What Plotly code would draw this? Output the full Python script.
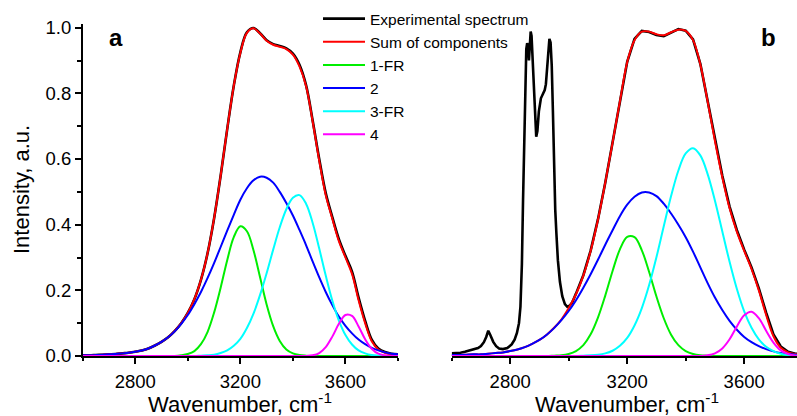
import plotly.graph_objects as go

# ---------------- data ----------------
WN = [2600, 2625, 2650, 2675, 2700, 2725, 2750, 2775, 2800, 2825, 2850, 2875, 2900, 2925, 2950, 2975,
      3000, 3025, 3050, 3075, 3100, 3125, 3150, 3175, 3200, 3225, 3250, 3275, 3300, 3325, 3350, 3375,
      3400, 3425, 3450, 3475, 3500, 3525, 3550, 3575, 3600, 3625, 3650, 3675, 3700, 3725, 3750, 3775, 3800]

# panel a
A_EXP = [.002, .002, .003, .004, .005, .006, .008, .010, .013, .017, .023, .032, .043, .057, .076, .100,
         .131, .173, .232, .312, .419, .549, .691, .823, .925, .986, .999, .983, .962, .950, .944, .937,
         .921, .887, .825, .718, .601, .496, .423, .356, .305, .257, .178, .107, .050, .023, .012, .007, .005]
A_SUM = [.002, .002, .003, .004, .005, .006, .008, .010, .013, .017, .023, .032, .043, .057, .076, .100,
         .131, .173, .232, .312, .419, .549, .691, .823, .923, .984, .998, .982, .960, .948, .942, .935,
         .918, .882, .822, .715, .596, .490, .418, .350, .300, .250, .170, .100, .045, .020, .010, .006, .004]
A_G1 = [0, 0, 0, 0, 0, 0, 0, 0, 0, 0, 0, 0, 0, 0, 0, .002,
        .006, .015, .036, .073, .132, .208, .292, .362, .395, .380, .322, .240, .157, .091, .046, .020,
        .008, .003, .001, 0, 0, 0, 0, 0, 0, 0, 0, 0, 0, 0, 0, 0, 0]
A_B2 = [.002, .002, .003, .004, .005, .006, .008, .010, .013, .017, .023, .032, .043, .057, .075, .098,
        .125, .158, .195, .237, .283, .332, .382, .430, .476, .511, .535, .546, .543, .528, .500, .466,
        .428, .384, .338, .288, .240, .195, .155, .120, .092, .069, .050, .036, .025, .017, .011, .007, .005]
A_B3 = [0, 0, 0, 0, 0, 0, 0, 0, 0, 0, 0, 0, 0, 0, 0, 0,
        0, 0, .001, .002, .004, .009, .017, .031, .052, .085, .129, .186, .252, .324, .392, .447,
        .482, .490, .464, .406, .328, .245, .169, .108, .064, .035, .017, .008, .003, .001, 0, 0, 0]
A_B4 = [0, 0, 0, 0, 0, 0, 0, 0, 0, 0, 0, 0, 0, 0, 0, 0,
        0, 0, 0, 0, 0, 0, 0, 0, 0, 0, 0, 0, 0, 0, 0, 0,
        0, 0, 0, .002, .009, .027, .059, .098, .125, .122, .090, .051, .022, .007, .002, 0, 0]

# panel b
B_EXP_X = [2600, 2615, 2630, 2645, 2660, 2675, 2690, 2700, 2710, 2718, 2725, 2732, 2742, 2752, 2762,
           2775, 2790, 2805, 2815, 2823, 2830, 2835, 2840, 2844, 2848, 2852, 2855, 2858, 2861, 2864,
           2867, 2870, 2873, 2877, 2881, 2885, 2889, 2893, 2898, 2905, 2912, 2918, 2922, 2926, 2930,
           2934, 2938, 2942, 2946, 2950, 2954, 2958, 2963, 2970, 2978, 2987, 2995, 3003, 3012, 3025,
           3050, 3075, 3100, 3125, 3150, 3175, 3200, 3225, 3250, 3275, 3300, 3325, 3350, 3375, 3400,
           3425, 3450, 3475, 3500, 3525, 3550, 3575, 3600, 3625, 3650, 3675, 3700, 3725, 3750, 3775, 3800]
B_EXP = [.008, .008, .010, .013, .017, .020, .024, .030, .042, .058, .077, .064, .043, .030, .023,
         .021, .024, .035, .050, .070, .100, .150, .280, .480, .680, .850, .935, .953, .945, .900,
         .955, .988, .975, .890, .790, .700, .668, .685, .745, .785, .800, .810, .828, .875, .935,
         .966, .955, .885, .745, .565, .445, .372, .292, .226, .182, .158, .150, .153, .163, .190,
         .246, .321, .416, .528, .650, .776, .896, .966, .990, .987, .978, .974, .985, .996, .991,
         .964, .890, .778, .660, .550, .455, .383, .324, .270, .206, .132, .066, .029, .013, .007, .005]
B_SUM = [.003, .003, .004, .005, .005, .007, .009, .011, .015, .020, .027, .037, .049, .065, .086, .111,
         .146, .188, .245, .320, .415, .528, .650, .775, .895, .962, .988, .988, .980, .977, .986, .994,
         .990, .962, .888, .775, .655, .545, .450, .378, .320, .265, .200, .125, .060, .025, .011, .006, .004]
B_G1 = [0, 0, 0, 0, 0, 0, 0, 0, 0, 0, 0, 0, 0, 0, .001, .002,
        .006, .015, .033, .066, .117, .184, .259, .325, .363, .362, .322, .256, .181, .115, .065, .033,
        .015, .006, .002, .001, 0, 0, 0, 0, 0, 0, 0, 0, 0, 0, 0, 0, 0]
B_B2 = [.003, .003, .004, .005, .005, .007, .009, .011, .015, .020, .027, .037, .049, .065, .085, .109,
        .137, .170, .208, .249, .293, .339, .383, .426, .461, .485, .498, .498, .487, .464, .434, .400,
        .362, .318, .270, .222, .178, .140, .107, .080, .058, .042, .030, .021, .014, .009, .006, .004, .003]
B_B3 = [0, 0, 0, 0, 0, 0, 0, 0, 0, 0, 0, 0, 0, 0, 0, 0,
        0, 0, .001, .002, .004, .008, .016, .031, .055, .093, .146, .216, .301, .395, .487, .565,
        .617, .633, .611, .554, .473, .380, .287, .204, .136, .086, .051, .028, .015, .007, .003, .001, .001]
B_B4 = [0, 0, 0, 0, 0, 0, 0, 0, 0, 0, 0, 0, 0, 0, 0, 0,
        0, 0, 0, 0, 0, 0, 0, 0, 0, 0, 0, 0, 0, 0, 0, 0,
        0, 0, 0, .002, .008, .023, .051, .090, .124, .135, .115, .077, .041, .017, .006, .001, 0]

NAMES = ["Experimental spectrum", "Sum of components", "1-FR", "2", "3-FR", "4"]
COLORS = ["#000000", "#ff0000", "#00ee00", "#0000ff", "#00ffff", "#ff00ff"]
X_TICKS = [2800, 3200, 3600]
X_MINOR = [2600, 3000, 3400, 3800]
Y_TICKS = [0.0, 0.2, 0.4, 0.6, 0.8, 1.0]
Y_TICK_TEXT = ["0.0", "0.2", "0.4", "0.6", "0.8", "1.0"]
Y_MINOR = [0.1, 0.3, 0.5, 0.7, 0.9]

FONT = "Liberation Sans, Arial, sans-serif"

fig = go.Figure()

panel_a = [(WN, A_EXP), (WN, A_SUM), (WN, A_G1), (WN, A_B2), (WN, A_B3), (WN, A_B4)]
panel_b = [(B_EXP_X, B_EXP), (WN, B_SUM), (WN, B_G1), (WN, B_B2), (WN, B_B3), (WN, B_B4)]

for i, (xs, ys) in enumerate(panel_a):
    fig.add_trace(go.Scatter(
        x=xs, y=ys, mode="lines", name=NAMES[i], legendgroup=NAMES[i],
        line=dict(color=COLORS[i], width=2.6 if i == 0 else 2.0, shape="spline", smoothing=1.0),
        xaxis="x", yaxis="y", showlegend=True))

for i, (xs, ys) in enumerate(panel_b):
    fig.add_trace(go.Scatter(
        x=xs, y=ys, mode="lines", name=NAMES[i], legendgroup=NAMES[i],
        line=dict(color=COLORS[i], width=2.6 if i == 0 else 2.0,
                  shape="linear" if i == 0 else "spline", smoothing=1.0),
        xaxis="x2", yaxis="y2", showlegend=False))

W, H = 797, 416
ax_x0, ax_x1 = 82.7, 398.0
bx_x0 = 451.7
y_top, y_bot = 24.4, 356.0

common_x = dict(
    showline=True, linecolor="black", linewidth=1.5, mirror=False,
    ticks="outside", ticklen=6, tickwidth=1.5, tickcolor="black",
    tickmode="array", tickvals=X_TICKS, ticktext=[str(v) for v in X_TICKS],
    tickfont=dict(family=FONT, size=18.5, color="black"), ticklabelstandoff=2,
    minor=dict(tickmode="array", tickvals=X_MINOR, ticks="outside",
               ticklen=3.5, tickwidth=1.5, tickcolor="black"),
    showgrid=False, zeroline=False, automargin=False)

fig.update_layout(
    width=W, height=H, autosize=False,
    margin=dict(l=0, r=0, t=0, b=0, pad=0, autoexpand=False),
    paper_bgcolor="white", plot_bgcolor="white",
    font=dict(family=FONT, color="black"),
    xaxis=dict(domain=[ax_x0 / W, ax_x1 / W], range=[2600, 3800], anchor="y", **common_x),
    xaxis2=dict(domain=[bx_x0 / W, 1.0], range=[2600, 3780.5], anchor="y2", **common_x),
    yaxis=dict(domain=[(H - y_bot) / H, (H - y_top) / H], range=[0, 1.01], anchor="x",
               showline=True, linecolor="black", linewidth=1.5,
               ticks="outside", ticklen=6, tickwidth=1.5, tickcolor="black",
               tickmode="array", tickvals=Y_TICKS, ticktext=Y_TICK_TEXT,
               tickfont=dict(family=FONT, size=18.5, color="black"),
               minor=dict(tickmode="array", tickvals=Y_MINOR, ticks="outside",
                          ticklen=3.5, tickwidth=1.5, tickcolor="black"),
               showgrid=False, zeroline=False, automargin=False),
    yaxis2=dict(domain=[(H - y_bot) / H, (H - y_top) / H], range=[0, 1.01], anchor="x2",
                visible=False),
    showlegend=True,
    legend=dict(x=318 / W, y=(H - 2) / H, xanchor="left", yanchor="top",
                bgcolor="rgba(0,0,0,0)", borderwidth=0, tracegroupgap=0,
                font=dict(family=FONT, size=15.5, color="black"), itemwidth=42),
    annotations=[
        dict(text="<b>a</b>", x=107 / W, y=(H - 53) / H, xref="paper", yref="paper",
             xanchor="left", yanchor="bottom", showarrow=False,
             font=dict(family=FONT, size=24, color="black")),
        dict(text="<b>b</b>", x=759 / W, y=(H - 53) / H, xref="paper", yref="paper",
             xanchor="left", yanchor="bottom", showarrow=False,
             font=dict(family=FONT, size=24, color="black")),
        dict(text="Wavenumber, cm<sup>-1</sup>", x=240 / W, y=0, xref="paper", yref="paper",
             xanchor="center", yanchor="bottom", yshift=-3, showarrow=False,
             font=dict(family=FONT, size=22, color="black")),
        dict(text="Wavenumber, cm<sup>-1</sup>", x=627 / W, y=0, xref="paper", yref="paper",
             xanchor="center", yanchor="bottom", yshift=-3, showarrow=False,
             font=dict(family=FONT, size=22, color="black")),
        dict(text="Intensity, a.u.", x=21 / W, y=(H - 190) / H, xref="paper", yref="paper",
             xanchor="center", yanchor="middle", textangle=-90, showarrow=False,
             font=dict(family=FONT, size=22, color="black")),
    ],
)

fig.write_html("out.html")
